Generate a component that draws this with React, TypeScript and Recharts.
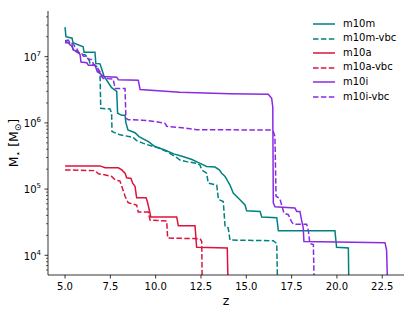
import React from 'react';
import { LineChart, Line, XAxis, YAxis, Legend } from 'recharts';

const FONT = '"DejaVu Sans", sans-serif';

// redshift (z) and stellar mass (M_sun) for each run
const m10mZ = [5.0, 5.05, 5.39, 5.44, 6.0, 6.05, 6.65, 6.7, 6.93, 7.04, 7.15, 7.57, 7.85, 7.9, 8.13, 8.31, 8.36, 8.47, 8.86, 9.08, 9.6, 9.96, 10.5, 11.0, 11.5, 12.0, 12.45, 12.81, 13.27, 13.51, 13.64, 13.83, 14.0, 14.1, 14.28, 14.65, 14.93, 15.02, 15.76, 15.85, 16.68, 16.77, 19.89, 19.98, 20.63, 20.66];
const m10mM = [2.8e7, 2.0e7, 1.9e7, 1.62e7, 1.41e7, 1.17e7, 1.17e7, 7.9e6, 7.8e6, 6.3e6, 5.1e6, 3.4e6, 3.0e6, 1.4e6, 1.3e6, 1.3e6, 1.0e6, 7.8e5, 7.1e5, 6.2e5, 5.2e5, 4.4e5, 3.9e5, 3.4e5, 3.1e5, 2.8e5, 2.45e5, 2.2e5, 2.15e5, 1.95e5, 1.74e5, 1.55e5, 1.29e5, 1.15e5, 8.7e4, 6.9e4, 5.75e4, 4.7e4, 4.6e4, 3.8e4, 3.7e4, 2.35e4, 2.35e4, 1.32e4, 1.29e4, 3000];

const m10mVbcZ = [5.0, 5.37, 5.46, 5.92, 6.1, 6.29, 6.38, 6.75, 6.78, 6.93, 6.97, 7.48, 7.57, 7.59, 7.85, 8.03, 8.58, 8.77, 8.95, 9.32, 9.87, 10.15, 10.61, 11.16, 11.34, 11.71, 12.26, 12.45, 12.54, 12.81, 12.9, 13.37, 13.46, 13.73, 13.83, 14.0, 14.1, 16.49, 16.68, 16.73];
const m10mVbcM = [1.7e7, 1.58e7, 1.26e7, 1.07e7, 1.07e7, 9.5e6, 7.9e6, 7.1e6, 5.9e6, 5.6e6, 1.66e6, 1.62e6, 1.41e6, 7.4e5, 6.9e5, 6.6e5, 6.2e5, 6.0e5, 5.4e5, 4.9e5, 4.4e5, 4.2e5, 3.7e5, 3.0e5, 2.75e5, 2.6e5, 2.45e5, 2.3e5, 1.95e5, 1.74e5, 1.23e5, 1.15e5, 7.0e4, 6.5e4, 2.7e4, 2.6e4, 1.7e4, 1.66e4, 1.5e4, 3000];

const m10aZ = [5.0, 6.93, 7.21, 7.94, 8.13, 8.31, 8.4, 8.64, 8.73, 8.86, 8.95, 9.47, 9.54, 9.65, 9.73, 11.16, 11.25, 12.17, 12.26, 13.95, 14.0];
const m10aM = [2.24e5, 2.24e5, 2.1e5, 2.1e5, 1.95e5, 1.74e5, 1.48e5, 1.45e5, 1.23e5, 1.1e5, 7.4e4, 7.4e4, 6.5e4, 4.8e4, 3.8e4, 3.8e4, 2.8e4, 2.8e4, 1.32e4, 1.29e4, 3000];

const m10aVbcZ = [5.0, 6.65, 6.84, 7.11, 7.57, 7.76, 8.03, 8.13, 8.31, 8.49, 8.95, 9.04, 9.59, 9.69, 10.61, 10.66, 12.45, 12.54, 12.57];
const m10aVbcM = [1.95e5, 1.9e5, 1.7e5, 1.66e5, 1.55e5, 1.38e5, 1.32e5, 1.1e5, 7.8e4, 6.2e4, 5.75e4, 4.5e4, 4.5e4, 3.4e4, 3.3e4, 1.82e4, 1.78e4, 1.62e4, 3000];

const m10iZ = [5.0, 5.18, 5.28, 5.37, 5.46, 5.59, 5.73, 5.83, 5.88, 6.2, 6.29, 6.65, 6.75, 6.93, 7.11, 7.85, 7.94, 9.04, 9.14, 11.34, 14.1, 16.21, 16.4, 16.46, 16.49, 16.58, 17.68, 17.78, 17.96, 18.05, 18.14, 18.18, 22.65, 22.74, 22.8];
const m10iM = [1.62e7, 1.62e7, 1.51e7, 1.45e7, 1.26e7, 1.23e7, 1.2e7, 1.07e7, 8.3e6, 8.1e6, 7.4e6, 7.4e6, 6.3e6, 5.6e6, 5.0e6, 4.9e6, 4.5e6, 4.4e6, 3.2e6, 2.9e6, 2.75e6, 2.7e6, 2.35e6, 1.74e6, 6.2e4, 5.4e4, 5.2e4, 4.6e4, 4.6e4, 3.4e4, 2.6e4, 1.62e4, 1.55e4, 1.2e4, 3000];

const m10iVbcZ = [5.0, 5.18, 5.28, 5.46, 5.55, 5.64, 5.73, 5.92, 6.01, 6.2, 6.29, 6.47, 6.56, 6.75, 6.93, 7.02, 7.11, 7.66, 7.76, 8.31, 8.36, 8.49, 9.23, 9.96, 10.52, 10.61, 11.34, 12.26, 16.31, 16.49, 16.58, 16.64, 16.85, 17.08, 17.32, 17.5, 17.6, 18.33, 18.42, 18.51, 18.7, 18.75];
const m10iVbcM = [1.74e7, 1.78e7, 1.62e7, 1.55e7, 1.41e7, 1.35e7, 1.15e7, 1.12e7, 1.02e7, 1.0e7, 9.1e6, 9.1e6, 7.8e6, 7.1e6, 5.9e6, 5.0e6, 4.7e6, 4.6e6, 3.3e6, 3.3e6, 1.17e6, 1.12e6, 1.1e6, 1.05e6, 9.8e5, 8.9e5, 8.5e5, 7.9e5, 7.8e5, 7.4e5, 6.2e5, 7.8e4, 7.2e4, 4.3e4, 4.1e4, 3.2e4, 2.95e4, 2.95e4, 2.4e4, 1.5e4, 1.45e4, 3000];

const xTicks = [5, 7.5, 10, 12.5, 15, 17.5, 20, 22.5];
const yMajorTicks = [1e4, 1e5, 1e6, 1e7];
const yDomain: [number, number] = [5040, 4.9e7];
const xDomain: [number, number] = [4.06, 23.7];

const yMinorTicks = [1e3, 1e4, 1e5, 1e6, 1e7]
  .flatMap((d) => [2, 3, 4, 5, 6, 7, 8, 9].map((k) => k * d))
  .filter((v) => v > yDomain[0] && v < yDomain[1]);
const yTicks = [...yMajorTicks, ...yMinorTicks].sort((a, b) => a - b);

const toPoints = (zs: number[], ms: number[]) => zs.map((z, i) => ({ z, m: ms[i] }));

const series = [
  { name: 'm10m', color: '#008080', dashed: false, data: toPoints(m10mZ, m10mM) },
  { name: 'm10m-vbc', color: '#008080', dashed: true, data: toPoints(m10mVbcZ, m10mVbcM) },
  { name: 'm10a', color: '#dc143c', dashed: false, data: toPoints(m10aZ, m10aM) },
  { name: 'm10a-vbc', color: '#dc143c', dashed: true, data: toPoints(m10aVbcZ, m10aVbcM) },
  { name: 'm10i', color: '#8a2be2', dashed: false, data: toPoints(m10iZ, m10iM) },
  { name: 'm10i-vbc', color: '#8a2be2', dashed: true, data: toPoints(m10iVbcZ, m10iVbcM) },
];

const DASH = '5.5 2.4';

function XTick({ x, y, payload }: any) {
  return (
    <g>
      <line x1={x} x2={x} y1={y} y2={y + 3.5} stroke="#000" strokeWidth={0.8} />
      <text x={x} y={y + 15.3} textAnchor="middle" fontSize={10} fontFamily={FONT} fill="#000">
        {payload.value.toFixed(1)}
      </text>
    </g>
  );
}

function YTick({ x, y, payload }: any) {
  const v = payload.value;
  const major = yMajorTicks.includes(v);
  const exp = Math.round(Math.log10(v));
  return (
    <g>
      <line x1={x} x2={x - (major ? 3.5 : 2)} y1={y} y2={y} stroke="#000" strokeWidth={major ? 0.8 : 0.6} />
      {major && (
        <text x={x - 7} y={y + 4.3} textAnchor="end" fontSize={10} fontFamily={FONT} fill="#000">
          10
          <tspan dy={-5} fontSize={7}>{exp}</tspan>
        </text>
      )}
    </g>
  );
}

function YLabel({ viewBox }: any) {
  const cx = viewBox.x + 18;
  const cy = viewBox.y + viewBox.height / 2;
  return (
    <text transform={`translate(${cx},${cy}) rotate(-90)`} textAnchor="middle" fontSize={12.5} fontFamily={FONT} fill="#000">
      M
      <tspan dy={2.5} fontSize={9}>⋆</tspan>
      <tspan dy={-2.5}> [M</tspan>
      <tspan dy={2.5} fontSize={9}>⊙</tspan>
      <tspan dy={-2.5}>]</tspan>
    </text>
  );
}

function XLabel({ viewBox }: any) {
  return (
    <text x={viewBox.x + viewBox.width / 2} y={viewBox.y + 30} textAnchor="middle" fontSize={12.5} fontFamily={FONT} fill="#000">
      z
    </text>
  );
}

function LegendBox() {
  return (
    <div style={{ fontFamily: FONT, fontSize: 10, color: '#000' }}>
      {series.map((s) => (
        <div key={s.name} style={{ display: 'flex', alignItems: 'center', height: 14.6 }}>
          <svg width={22} height={4} style={{ display: 'block' }}>
            <line x1={0} x2={22} y1={2} y2={2} stroke={s.color} strokeWidth={1.5} strokeDasharray={s.dashed ? DASH : undefined} />
          </svg>
          <span style={{ marginLeft: 8, lineHeight: '14.6px' }}>{s.name}</span>
        </div>
      ))}
    </div>
  );
}

export default function App() {
  return (
    <div style={{ position: 'absolute', left: 0, top: 0 }}>
      <LineChart width={415} height={315} margin={{ top: 11, right: 11, left: 0, bottom: 0 }}>
        <XAxis
          xAxisId={0}
          dataKey="z"
          type="number"
          domain={xDomain}
          ticks={xTicks}
          interval={0}
          allowDataOverflow
          height={40}
          tickSize={0}
          tickMargin={0}
          tickLine={false}
          axisLine={{ stroke: '#000', strokeWidth: 0.8 }}
          tick={<XTick />}
          label={<XLabel />}
        />
        <XAxis xAxisId="top" orientation="top" type="number" domain={xDomain} height={0} tick={false} tickLine={false} axisLine={{ stroke: '#000', strokeWidth: 0.8 }} />
        <YAxis
          yAxisId={0}
          type="number"
          scale="log"
          domain={yDomain}
          ticks={yTicks}
          interval={0}
          allowDataOverflow
          width={48}
          tickSize={0}
          tickMargin={0}
          tickLine={false}
          axisLine={{ stroke: '#000', strokeWidth: 0.8 }}
          tick={<YTick />}
          label={<YLabel />}
        />
        <YAxis yAxisId="right" orientation="right" type="number" domain={[0, 1]} width={0} tick={false} tickLine={false} axisLine={{ stroke: '#000', strokeWidth: 0.8 }} />
        {series.map((s) => (
          <Line
            key={s.name}
            data={s.data}
            dataKey="m"
            name={s.name}
            type="linear"
            stroke={s.color}
            strokeWidth={1.5}
            strokeDasharray={s.dashed ? DASH : undefined}
            dot={false}
            activeDot={false}
            isAnimationActive={false}
          />
        ))}
        <Legend
          layout="vertical"
          align="center"
          verticalAlign="middle"
          content={<LegendBox />}
          wrapperStyle={{ top: 16.7, left: 313, width: 100 }}
        />
      </LineChart>
    </div>
  );
}
